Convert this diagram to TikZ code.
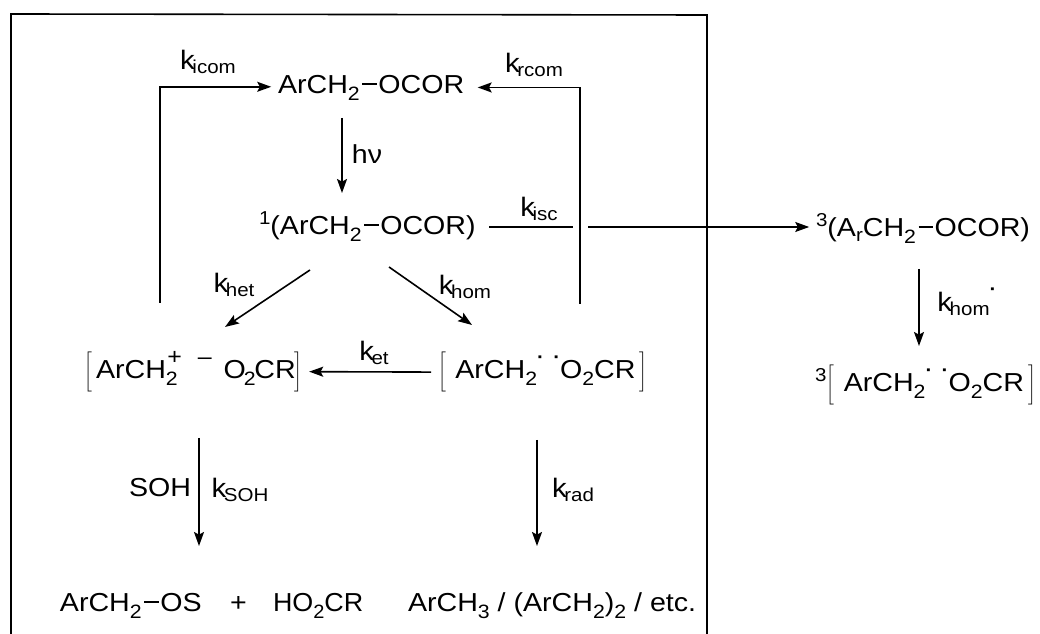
\documentclass[tikz,border=0pt]{standalone}
\usepackage{fontspec}
\setmainfont[FakeStretch=1.1]{Liberation Sans}
\usetikzlibrary{arrows.meta,positioning}
\newcommand{\lowr}[1]{\raisebox{-3.5pt}{\fontsize{14}{14}\selectfont #1}}
\newcommand{\subs}[1]{\raisebox{-4.8pt}{\fontsize{14.5}{14}\selectfont #1}}
\newcommand{\highr}[1]{\raisebox{7.5pt}{\fontsize{14}{14}\selectfont #1}}
\newcommand{\charge}[1]{\raisebox{11pt}{\fontsize{17}{14}\selectfont #1}}
\newcommand{\rate}[1]{{\fontsize{20}{20}\selectfont k}\kern-1.8pt\lowr{#1}}
\newcommand{\bnd}{\kern2pt\raisebox{7pt}{\rule{11pt}{1.2pt}}\kern1pt}
\newcommand{\rdot}{\raisebox{11.5pt}{\fontsize{14}{14}\selectfont\textbf{·}}}
\newcommand{\lbr}{$\left[\rule[-9pt]{0pt}{26pt}\right.$}
\newcommand{\rbr}{$\left.\rule[-9pt]{0pt}{26pt}\right]$}
\begin{document}
\begin{tikzpicture}[x=0.75pt,y=-0.75pt,>={Stealth[length=10.5pt,width=7.5pt,inset=2pt]},line width=1.2pt,
	every node/.style={font=\fontsize{19.5}{22}\selectfont,inner sep=4.5pt,text=black},
	chem/.style={anchor=text},
	rxn/.style={->},
	plainline/.style={-}
	]
\useasboundingbox (0,0) rectangle (1040,634);
% frame
\coordinate (fa) at (11,634);
\coordinate (fb) at (11,14);
\coordinate (fc) at (707,15);
\coordinate (fd) at (707,634);
\draw[plainline] (fa) -- (fb) -- (fc) -- (fd);
% species
\node[chem] (ester) at (278,94) {ArCH\subs{2}\bnd OCOR};
\node[chem] (singlet) at (259,235) {\highr{1}(ArCH\subs{2}\bnd OCOR)};
\node[chem] (ionpair) at (84,379) {\lbr\kern2pt ArCH\rlap{\kern1pt\charge{+}}\subs{2}\kern15pt\charge{–}\kern9pt O\kern-1.5pt\subs{2}\kern-1pt CR\kern-2pt\rbr};
\node[chem] (radpair) at (438,379) {\lbr\kern6pt ArCH\subs{2}\rdot\kern7pt\rdot O\subs{2}CR\kern2pt\rbr};
\node[chem] (ether) at (60,612) {ArCH\subs{2}\bnd OS};
\node[chem] (plus) at (230,612) {+};
\node[chem] (acid) at (273,612) {\scalebox{.94}[1]{HO\subs{2}CR}};
\node[chem] (others) at (408,612) {ArCH\subs{3} / (ArCH\subs{2})\subs{2} / etc.};
\node[chem] (triplet) at (816,237) {\highr{3}(A\lowr{r}CH\subs{2}\bnd OCOR)};
\node[chem] (trippair) at (815,392) {\highr{3}\lbr\kern6pt ArCH\subs{2}\rdot\kern7pt\rdot O\subs{2}CR\kern2pt\rbr};
% rate labels
\node (kicom) at (208,62) {\rate{icom}};
\node (krcom) at (534,65) {\rate{rcom}};
\node (hv) at (367,154) {hν};
\node (kisc) at (539,209) {\rate{isc}};
\node (khet) at (234,285) {\rate{het}};
\node (khom) at (465,287) {\rate{hom}};
\node (ket) at (374,353) {\rate{et}};
\node (soh) at (160,488) {SOH};
\node (ksoh) at (240,490) {\rate{SOH}};
\node (krad) at (573,490) {\rate{rad}};
\node (khomt) at (967,302) {\rate{hom}\rdot};
% free ends
\coordinate (icomfoot) at (160,303);
\coordinate (rcomfoot) at (580,304);
\coordinate (hvtop) at (342,118);
\coordinate (hvtip) at (342,193);
\coordinate (iscleft) at (573,227);
\coordinate (iscright) at (588,227);
\coordinate (hetfoot) at (310,270);
\coordinate (hettip) at (225,327);
\coordinate (homfoot) at (389,267);
\coordinate (homtip) at (472,325);
\coordinate (sohtop) at (199,438);
\coordinate (sohtip) at (199,546);
\coordinate (radtop) at (537,440);
\coordinate (radtip) at (537,546);
\coordinate (tripfoot) at (919,269);
\coordinate (triptip) at (919,346);
% connectors
\draw[rxn] (icomfoot) |- ([yshift=1pt]ester.west);
\draw[rxn] (rcomfoot) |- ([xshift=5pt,yshift=0.5pt]ester.east);
\draw[rxn] (hvtop) -- (hvtip);
\draw[plainline] ([xshift=5pt]singlet.east |- iscleft) -- (iscleft);
\draw[rxn] (iscright) -- (triplet.west |- iscright);
\draw[rxn] (hetfoot) -- (hettip);
\draw[rxn] (homfoot) -- (homtip);
\draw[rxn] (radpair.west) -- (ionpair.east);
\draw[rxn] (sohtop) -- (sohtip);
\draw[rxn] (radtop) -- (radtip);
\draw[rxn] (tripfoot) -- (triptip);
\end{tikzpicture}
\end{document}
